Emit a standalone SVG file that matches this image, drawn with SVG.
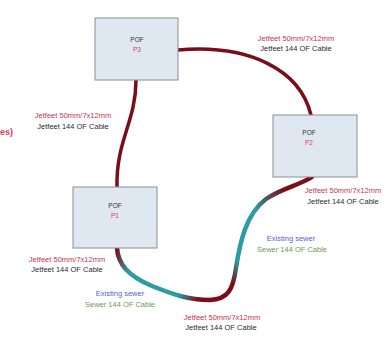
<svg xmlns="http://www.w3.org/2000/svg" width="386" height="338" viewBox="0 0 386 338">
  <style>
    .box { fill: #dfe7f1; stroke: #8a8f96; stroke-width: 1; }
    .pof { font-family: "Liberation Sans", Arial, sans-serif; font-size: 6.5px; fill: #333; text-anchor: middle; }
    .pid { font-family: "Liberation Sans", Arial, sans-serif; font-size: 6.5px; fill: #d04060; text-anchor: middle; }
    .lbl { font-family: "Liberation Sans", Arial, sans-serif; font-size: 7.5px; text-anchor: middle; }
    .red { fill: #c8344e; }
    .dark { fill: #2a2a2a; }
    .blue { fill: #5a5ae0; }
    .green { fill: #6f9a52; }
    .duct { fill: none; stroke: #7a0d18; stroke-width: 3.5; stroke-linecap: round; }
    .mixed { fill: none; stroke-width: 4.5; stroke-linecap: round; }
  </style>
  <defs>
    <linearGradient id="gA" gradientUnits="userSpaceOnUse" x1="117" y1="248" x2="210" y2="300">
      <stop offset="0" stop-color="#7a0d18"/>
      <stop offset="0.2" stop-color="#2a9ca3"/>
      <stop offset="0.72" stop-color="#2a9ca3"/>
      <stop offset="0.9" stop-color="#7a0d18"/>
      <stop offset="1" stop-color="#7a0d18"/>
    </linearGradient>
    <linearGradient id="gB" gradientUnits="userSpaceOnUse" x1="210" y1="300" x2="312" y2="177">
      <stop offset="0" stop-color="#7a0d18"/>
      <stop offset="0.17" stop-color="#7a0d18"/>
      <stop offset="0.3" stop-color="#2a9ca3"/>
      <stop offset="0.62" stop-color="#2a9ca3"/>
      <stop offset="0.82" stop-color="#7a0d18"/>
      <stop offset="1" stop-color="#7a0d18"/>
    </linearGradient>
  </defs>

  <rect width="386" height="338" fill="#ffffff"/>

  <!-- connectors -->
  <g id="connectors">
    <path class="duct" d="M178,50 C250,44 300,70 311,115"/>
    <path class="duct" d="M136,80 C136,122 116,140 117,187"/>
    <path class="mixed" stroke="url(#gA)" d="M117,248 C118,264 128,276 152,286 C172,294 188,300 210,300"/>
    <path class="mixed" stroke="url(#gB)" d="M210,300 C228,299 233,290 236,268 C240,242 246,214 266,199 C282,188 300,185 312,177"/>
  </g>

  <!-- nodes -->
  <g id="node-p3">
    <rect class="box" x="95" y="18" width="83" height="62"/>
    <text class="pof" x="137" y="42">POF</text>
    <text class="pid" x="137" y="52">P3</text>
  </g>
  <g id="node-p2">
    <rect class="box" x="273" y="115" width="84" height="62"/>
    <text class="pof" x="309" y="135">POF</text>
    <text class="pid" x="309" y="145">P2</text>
  </g>
  <g id="node-p1">
    <rect class="box" x="73" y="187" width="84" height="61"/>
    <text class="pof" x="115" y="208">POF</text>
    <text class="pid" x="115" y="218">P1</text>
  </g>

  <!-- cable labels -->
  <g id="label-p3-p2">
    <text class="lbl red" x="296" y="41">Jetfeet 50mm/7x12mm</text>
    <text class="lbl dark" x="296" y="51">Jetfeet 144 OF Cable</text>
  </g>
  <g id="label-p3-p1">
    <text class="lbl red" x="73" y="118">Jetfeet 50mm/7x12mm</text>
    <text class="lbl dark" x="73" y="129">Jetfeet 144 OF Cable</text>
  </g>
  <g id="label-left-edge">
    <text x="0" y="135" font-family="Liberation Sans, Arial, sans-serif" font-size="9" font-weight="bold" fill="#d0405a">es)</text>
  </g>
  <g id="label-p2">
    <text class="lbl red" x="343" y="193">Jetfeet 50mm/7x12mm</text>
    <text class="lbl dark" x="343" y="204">Jetfeet 144 OF Cable</text>
  </g>
  <g id="label-p1">
    <text class="lbl red" x="67" y="262">Jetfeet 50mm/7x12mm</text>
    <text class="lbl dark" x="67" y="272">Jetfeet 144 OF Cable</text>
  </g>
  <g id="label-sewer-right">
    <text class="lbl blue" x="291" y="241">Existing sewer</text>
    <text class="lbl green" x="292" y="252">Sewer 144 OF Cable</text>
  </g>
  <g id="label-sewer-bottom">
    <text class="lbl blue" x="120" y="296">Existing sewer</text>
    <text class="lbl green" x="120" y="307">Sewer 144 OF Cable</text>
  </g>
  <g id="label-bottom">
    <text class="lbl red" x="222" y="320">Jetfeet 50mm/7x12mm</text>
    <text class="lbl dark" x="221" y="330">Jetfeet 144 OF Cable</text>
  </g>
</svg>
